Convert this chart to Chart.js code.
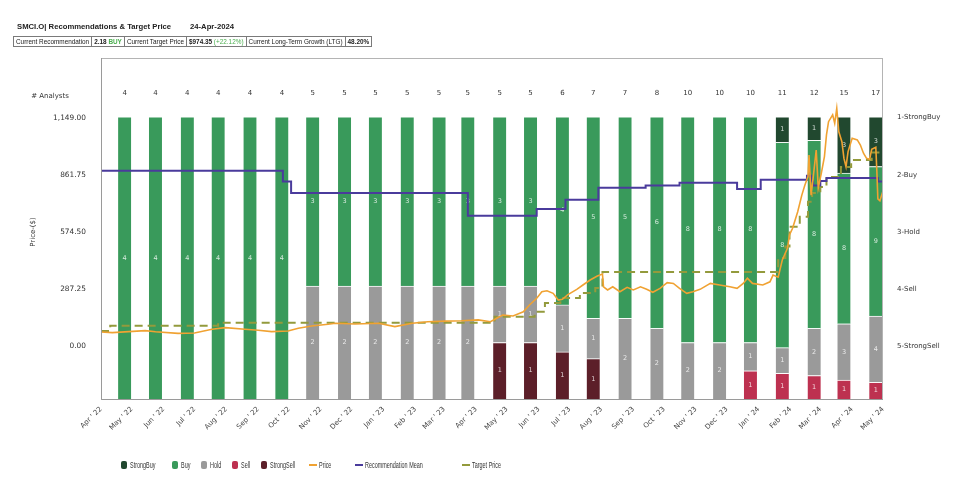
<!DOCTYPE html>
<html>
<head>
<meta charset="utf-8">
<script src="https://cdn.jsdelivr.net/npm/chart.js@4.4.1/dist/chart.umd.min.js"></script>
<style>
  html, body { margin: 0; padding: 0; background: #fff; }
  #wrap { position: relative; width: 959px; height: 479px; overflow: hidden; font-family: "Liberation Sans", Arial, sans-serif; color: #222; }
  canvas { position: absolute; left: 0; top: 0; }
  #title { position: absolute; left: 17px; top: 22px; font-weight: bold; font-size: 7.7px; white-space: nowrap; }
  #title .date { position: absolute; left: 173px; top: 0; }
  #info { position: absolute; left: 13px; top: 36px; border-collapse: collapse; font-size: 6.4px; }
  #info td { border: 1px solid #7a7a7a; height: 9px; padding: 0 2px; white-space: nowrap; }
  #info .b { font-weight: bold; }
  #info .g { color: #4caf50; }
  .lg { position: absolute; top: 459px; height: 12px; font-size: 8.5px; color: #333; white-space: nowrap; line-height: 12px; }
  .lg i { position: absolute; left: 0; }
  .lg span { position: absolute; white-space: nowrap; transform: scaleX(0.64); transform-origin: left center; }
</style>
</head>
<body>
<div id="wrap">
  <canvas id="c" width="959" height="479"></canvas>
  <div id="title">SMCI.O| Recommendations &amp; Target Price<span class="date">24-Apr-2024</span></div>
  <table id="info"><tr>
    <td>Current Recommendation</td>
    <td class="b">2.18 <span class="g">BUY</span></td>
    <td>Current Target Price</td>
    <td class="b">$974.35 <span class="g" style="font-weight:normal">(+22.12%)</span></td>
    <td>Current Long-Term Growth (LTG)</td>
    <td class="b">48.20%</td>
  </tr></table>
  <div id="legend"></div>
</div>
<script>
// ── Data ───────────────────────────────────────────────────────────────────
const START = '2022-04-01';

const X_LABELS = ["Apr ' 22","May ' 22","Jun ' 22","Jul ' 22","Aug ' 22","Sep ' 22","Oct ' 22","Nov ' 22",
                  "Dec ' 22","Jan ' 23","Feb ' 23","Mar ' 23","Apr ' 23","May ' 23","Jun ' 23","Jul ' 23",
                  "Aug ' 23","Sep ' 23","Oct ' 23","Nov ' 23","Dec ' 23","Jan ' 24","Feb ' 24","Mar ' 24",
                  "Apr ' 24","May ' 24"];

// monthly snapshot dates of the analyst breakdown
const SNAPSHOTS = ['2022-04-24','2022-05-24','2022-06-24','2022-07-24','2022-08-24','2022-09-24','2022-10-24',
                   '2022-11-24','2022-12-24','2023-01-24','2023-02-24','2023-03-24','2023-04-24','2023-05-24',
                   '2023-06-24','2023-07-24','2023-08-24','2023-09-24','2023-10-24','2023-11-24','2023-12-24',
                   '2024-01-24','2024-02-24','2024-03-24','2024-04-24'];

const STRONG_BUY  = [0,0,0,0,0,0, 0,0,0,0,0,0, 0,0,0,0,0,0,0,0,0, 1,1,3,3];
const BUY         = [4,4,4,4,4,4, 3,3,3,3,3,3, 3,3,4,5,5,6,8,8,8, 8,8,8,9];
const HOLD        = [0,0,0,0,0,0, 2,2,2,2,2,2, 1,1,1,1,2,2,2,2,1, 1,2,3,4];
const SELL        = [0,0,0,0,0,0, 0,0,0,0,0,0, 0,0,0,0,0,0,0,0,1, 1,1,1,1];
const STRONG_SELL = [0,0,0,0,0,0, 0,0,0,0,0,0, 1,1,1,1,0,0,0,0,0, 0,0,0,0];

// daily close, sampled (days since START)
const PRICE_DAYS   = [0,11,43,53,75,91,108,121,140,153,166,182,192,205,221,228,247,270,286,303,318,335,351,367,
                      379,385,391,401,411,417,424,429,434,440,445,449,454,463,469,476,483,488,489,493,498,505,
                      512,518,525,531,537,544,551,557,563,570,576,583,593,602,612,619,625,629,634,644,651,654,
                      659,663,668,670,673,678,682,685,688,689,691,693,696,698,701,704,706,708,712,714,716,718,
                      721,723,725,727,731,736,739,742,745,748,750,754,755,756,758,761];
const PRICE_VALUES = [69,66,76,70,62,64,83,91,83,78,71,74,88,99,108,113,109,113,96,113,121,124,126,130,
                      121,138,155,150,171,205,239,272,277,264,230,234,256,284,306,331,351,361,297,281,297,272,
                      294,281,297,284,269,289,318,314,289,264,272,284,314,306,297,289,314,340,314,306,322,356,
                      345,432,491,558,592,675,759,810,852,961,759,845,986,795,870,953,1062,1129,1163,1121,1196,1078,
                      1028,944,902,978,1045,1037,1011,970,944,940,990,1000,880,740,730,780];

const REC_DAYS   = [0,177,185,357,424,452,484,530,563,619,642,687,691,693,700,706,756,761];
const REC_VALUES = [1.93,2.12,2.32,2.72,2.60,2.44,2.23,2.19,2.14,2.25,2.09,2.02,2.12,2.19,2.11,2.06,2.12,2.12];

const TARGET_DAYS   = [0,9,114,383,422,432,447,466,481,488,659,666,670,680,688,692,700,706,720,730,750,761];
const TARGET_VALUES = [74,101,116,146,171,215,240,266,291,371,442,500,600,650,726,770,800,850,900,936,974,974];

const PRICE_TICKS = [0, 287.25, 574.5, 861.75, 1149];
const REC_LABELS  = ['1-StrongBuy','2-Buy','3-Hold','4-Sell','5-StrongSell'];

// ── Helpers ────────────────────────────────────────────────────────────────
const DAY = 86400000;
function utc(s) { const [y, m, d] = s.split('-').map(Number); return Date.UTC(y, m - 1, d); }
function day(s) { return Math.round((utc(s) - utc(START)) / DAY); }
function monthStart(i) { return Math.round((Date.UTC(2022, 3 + i, 1) - utc(START)) / DAY); }

const TOTALS = SNAPSHOTS.map((_, i) => STRONG_BUY[i] + BUY[i] + HOLD[i] + SELL[i] + STRONG_SELL[i]);
const X_MAX  = monthStart(X_LABELS.length - 1);

const COL = {
  strongBuy: '#21482f', buy: '#399a5b', hold: '#9a9a9a', sell: '#bd3150', strongSell: '#5c1f29',
  price: '#f0a232', rec: '#4a3b9c', target: '#939a3c',
};

function barSet(label, counts, color) {
  return {
    type: 'bar', label, yAxisID: 'yb', stack: 'a', order: 1,
    counts,
    data: SNAPSHOTS.map((d, i) => ({ x: day(d), y: counts[i] ? counts[i] / TOTALS[i] : null })),
    backgroundColor: color,
    borderColor: 'rgba(255,255,255,0.85)',
    borderWidth: { top: 1, left: 0, right: 0, bottom: 0 },
    borderSkipped: false,
    barThickness: 13,
  };
}

function lineSet(label, days, values, axis, color, extra) {
  return Object.assign({
    type: 'line', label, yAxisID: axis, order: 0,
    data: days.map((d, i) => ({ x: d, y: values[i] })),
    borderColor: color, backgroundColor: color,
    borderWidth: 1.8, pointRadius: 0, tension: 0, fill: false,
  }, extra || {});
}

// ── Annotations (counts, in-bar labels, box) ───────────────────────────────
const annotate = {
  id: 'annotate',
  afterDatasetDraw(chart, args) {
    const ds = chart.data.datasets[args.index];
    if (!ds.counts) return;
    const ctx = chart.ctx;
    ctx.save();
    ctx.font = '6.5px "DejaVu Sans"';
    ctx.fillStyle = 'rgba(255,255,255,0.8)';
    ctx.textAlign = 'center';
    ctx.textBaseline = 'middle';
    args.meta.data.forEach((el, i) => {
      if (!ds.counts[i]) return;
      ctx.fillText(ds.counts[i], el.x, (el.y + el.base) / 2);
    });
    ctx.restore();
  },
  afterDatasetsDraw(chart) {
    const { ctx, chartArea: a } = chart;
    ctx.save();
    ctx.strokeStyle = '#b4b4b4';
    ctx.lineWidth = 1;
    ctx.strokeRect(a.left + 0.5, a.top + 0.5, a.right - a.left - 1, a.bottom - a.top);
    ctx.strokeStyle = '#9a9a9a';
    ctx.beginPath();
    ctx.moveTo(a.left + 0.5, a.top); ctx.lineTo(a.left + 0.5, a.bottom + 0.5); ctx.lineTo(a.right, a.bottom + 0.5);
    ctx.stroke();

    ctx.fillStyle = '#333';
    ctx.font = '7px "DejaVu Sans"';
    ctx.textAlign = 'center';
    ctx.textBaseline = 'middle';
    ctx.fillText('# Analysts', 50, 96);
    const xs = chart.scales.x;
    SNAPSHOTS.forEach((d, i) => ctx.fillText(TOTALS[i], xs.getPixelForValue(day(d)), 93));

    ctx.translate(33, 232);
    ctx.rotate(-Math.PI / 2);
    ctx.fillText('Price-($)', 0, 0);
    ctx.restore();
  }
};

// ── Chart ──────────────────────────────────────────────────────────────────
// bars stack bottom-up: StrongSell, Sell, Hold, Buy, StrongBuy
const chart = new Chart(document.getElementById('c'), {
  type: 'bar',
  data: {
    datasets: [
      lineSet('Price', PRICE_DAYS, PRICE_VALUES, 'y', COL.price, { borderWidth: 1.6 }),
      lineSet('Recommendation Mean', REC_DAYS, REC_VALUES, 'yr', COL.rec, { stepped: 'before', borderWidth: 2 }),
      lineSet('Target Price', TARGET_DAYS, TARGET_VALUES, 'y', COL.target, { stepped: 'before', borderWidth: 2, borderDash: [8, 5] }),
      barSet('StrongSell', STRONG_SELL, COL.strongSell),
      barSet('Sell', SELL, COL.sell),
      barSet('Hold', HOLD, COL.hold),
      barSet('Buy', BUY, COL.buy),
      barSet('StrongBuy', STRONG_BUY, COL.strongBuy),
    ]
  },
  options: {
    responsive: false,
    animation: false,
    devicePixelRatio: 1,
    layout: { padding: { top: 58, left: 0, right: 0, bottom: 0 } },
    plugins: { legend: { display: false }, tooltip: { enabled: false } },
    scales: {
      x: {
        type: 'linear', min: 0, max: X_MAX, offset: false,
        grid: { display: false, drawTicks: false },
        border: { display: false },
        afterBuildTicks: (s) => { s.ticks = X_LABELS.map((_, i) => ({ value: monthStart(i) })); },
        afterFit: (s) => { s.height = 80; },
        ticks: {
          autoSkip: false, maxRotation: 45, minRotation: 45, padding: 6,
          color: '#444', font: { family: 'DejaVu Sans', size: 7 },
          callback: (v, i) => X_LABELS[i],
        },
      },
      y: {
        position: 'left', min: -268.6, max: 1449.9,
        grid: { display: false, drawTicks: false },
        border: { display: false },
        afterBuildTicks: (s) => { s.ticks = PRICE_TICKS.map(v => ({ value: v })); },
        afterFit: (s) => { s.width = 101; },
        ticks: {
          padding: 15, color: '#333', font: { family: 'DejaVu Sans', size: 7.4 },
          callback: (v) => v.toLocaleString('en-US', { minimumFractionDigits: 2, maximumFractionDigits: 2 }),
        },
      },
      yr: {
        position: 'right', reverse: true, min: -0.047, max: 5.935,
        grid: { display: false, drawTicks: false },
        border: { display: false },
        afterBuildTicks: (s) => { s.ticks = REC_LABELS.map((_, i) => ({ value: i + 1 })); },
        afterFit: (s) => { s.width = 76; },
        ticks: {
          padding: 14, color: '#333', font: { family: 'DejaVu Sans', size: 7 },
          callback: (v, i) => REC_LABELS[i],
        },
      },
      yb: { display: false, min: 0, max: 1.208, stacked: true },
    }
  },
  plugins: [annotate],
});

// ── Legend ─────────────────────────────────────────────────────────────────
const LEGEND_LEFT = [121, 172, 201, 232, 261, 309, 355, 462];
const legendItems = [
  ['StrongBuy', COL.strongBuy, 'box'], ['Buy', COL.buy, 'box'], ['Hold', COL.hold, 'box'],
  ['Sell', COL.sell, 'box'], ['StrongSell', COL.strongSell, 'box'], ['Price', COL.price, 'line'],
  ['Recommendation Mean', COL.rec, 'line'], ['Target Price', COL.target, 'line'],
];
const legend = document.getElementById('legend');
legendItems.forEach(([name, color, kind], i) => {
  const d = document.createElement('div');
  d.className = 'lg';
  d.style.left = LEGEND_LEFT[i] + 'px';
  const mark = kind === 'box'
    ? `<i style="top:2px;width:6px;height:8px;border-radius:2px;background:${color}"></i>`
    : `<i style="top:5px;width:8px;height:2px;background:${color}"></i>`;
  d.innerHTML = mark + `<span style="left:${kind === 'box' ? 9 : 10}px">${name}</span>`;
  legend.appendChild(d);
});
</script>
</body>
</html>
